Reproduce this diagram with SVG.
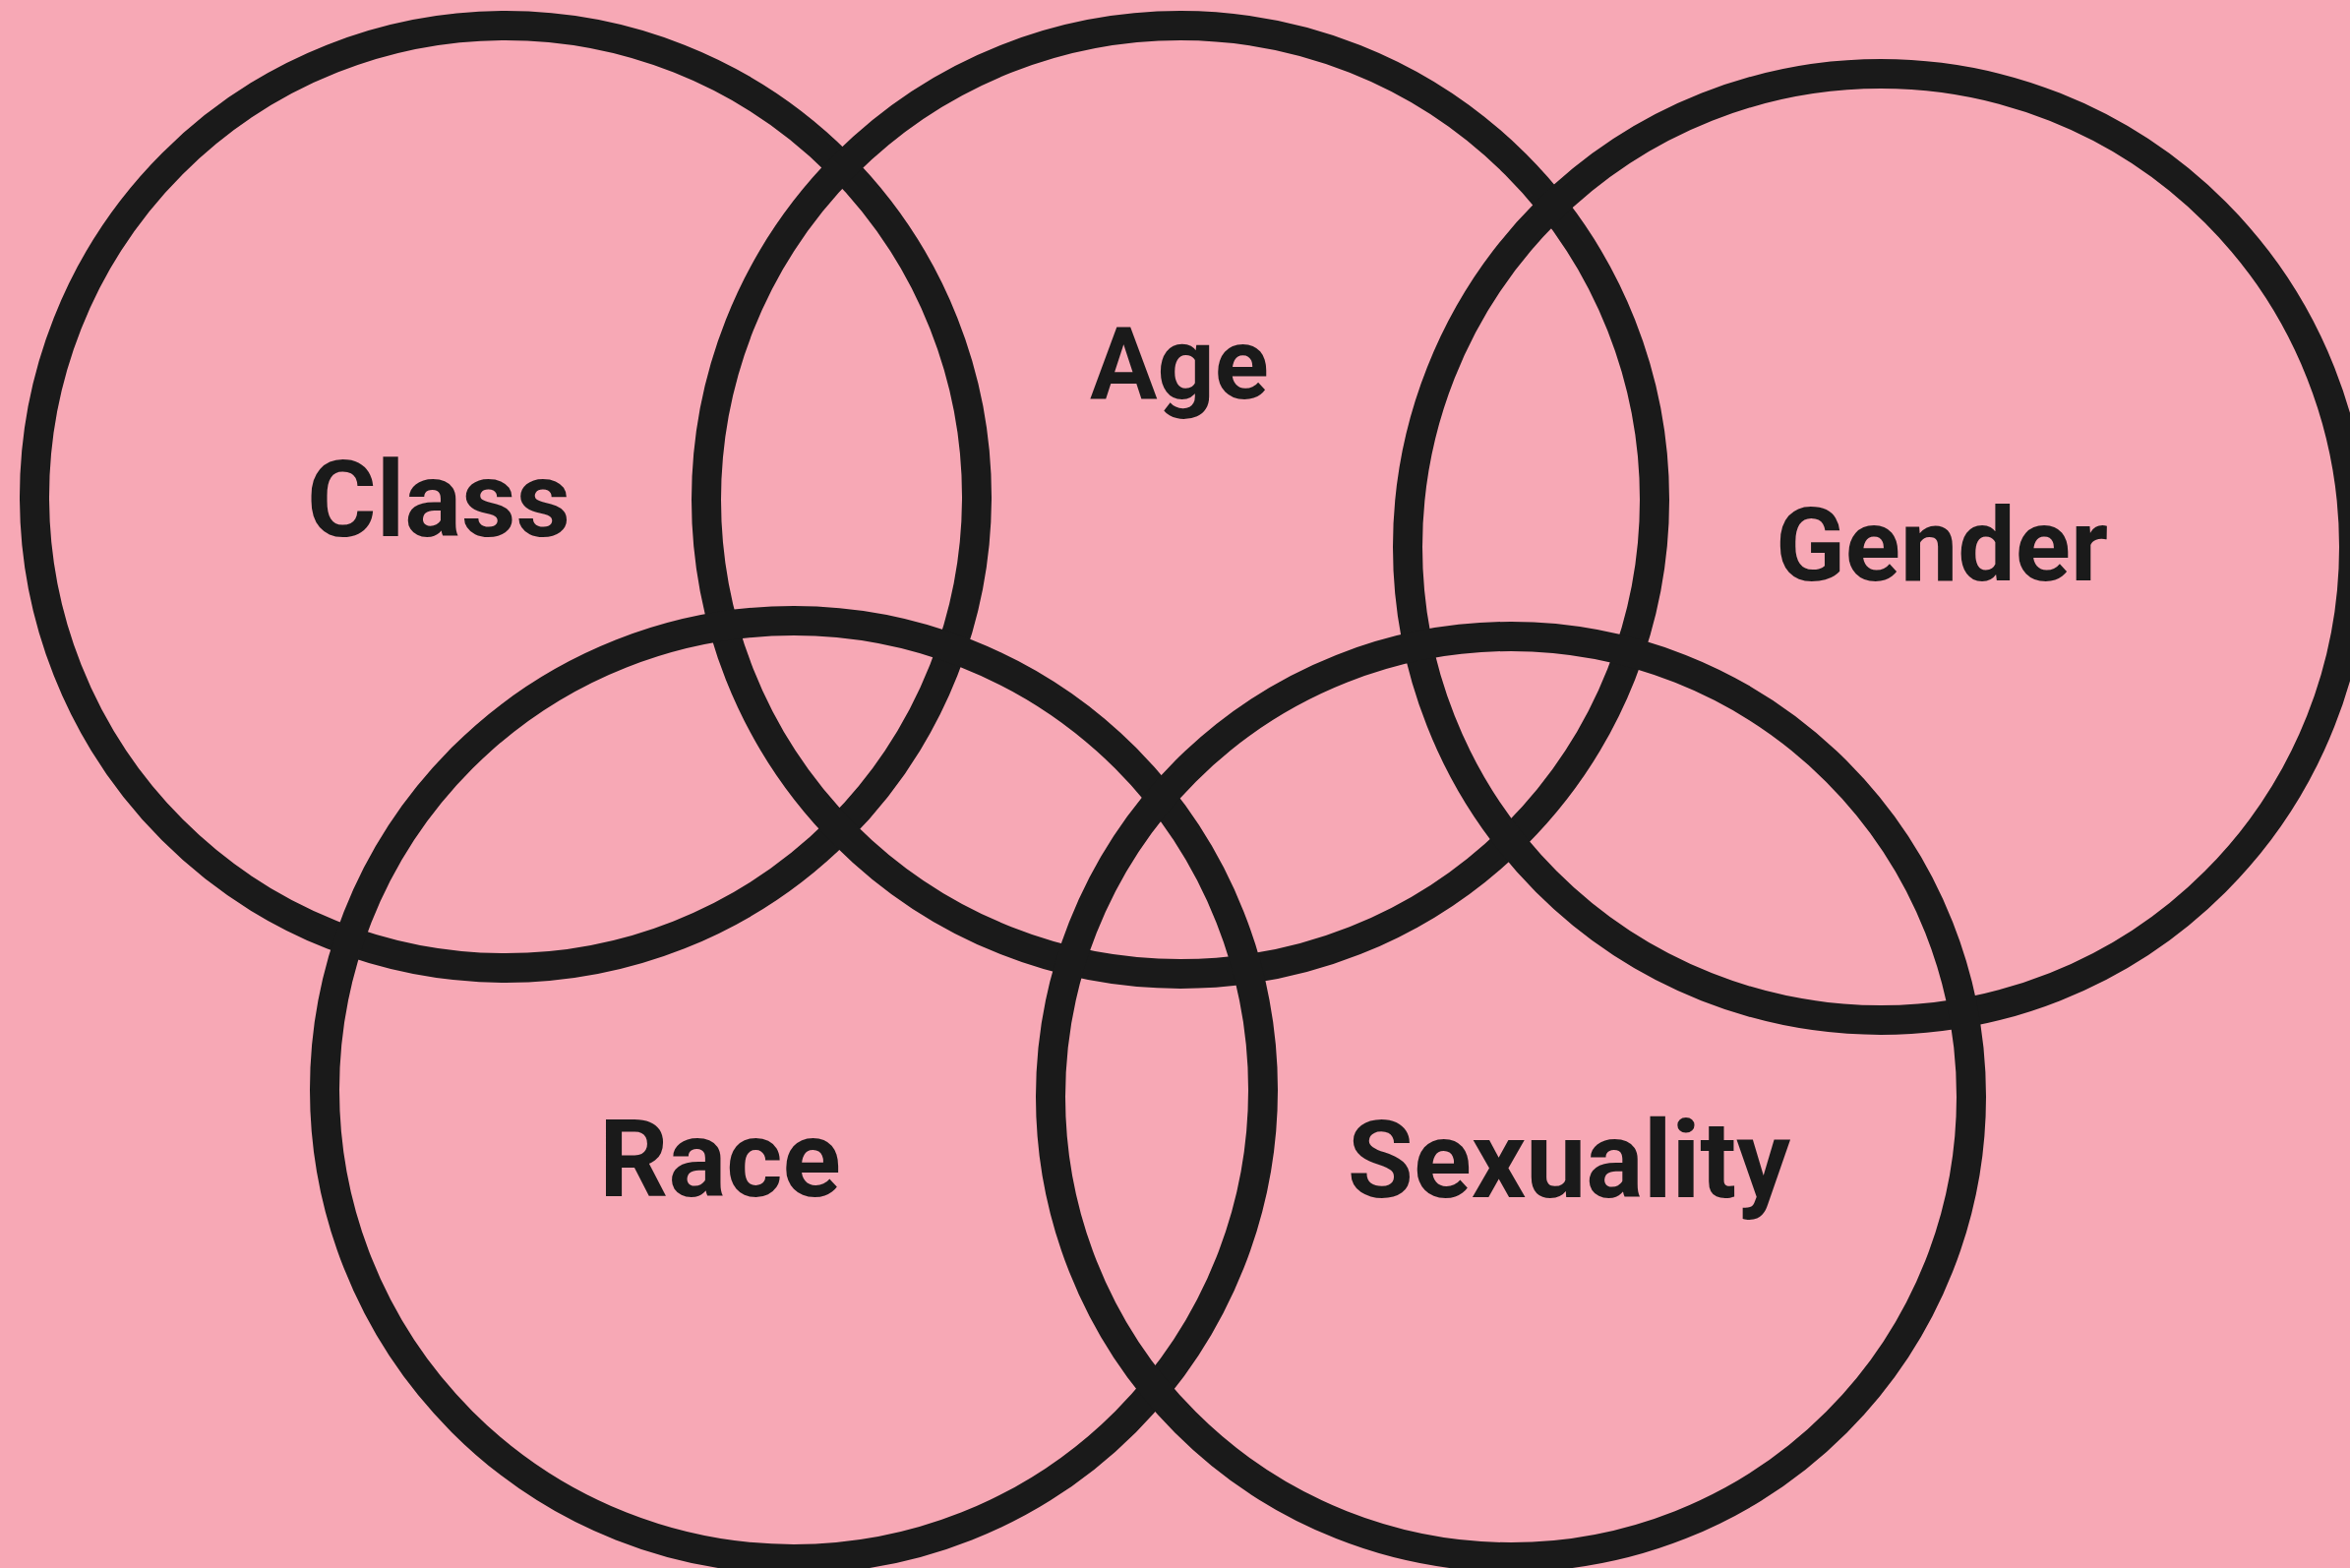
<svg xmlns="http://www.w3.org/2000/svg" width="2389" height="1594" viewBox="0 0 2389 1594">
<style>
.ring{fill:none;stroke:#1a1a1a;stroke-width:30}
.lbl{font-family:Roboto,"Liberation Sans",sans-serif;font-weight:700;fill:#1a1a1a;text-anchor:middle}
</style>
<rect width="2389" height="1594" fill="#f7a8b5"/>
<g id="class"><circle class="ring" cx="514" cy="505" r="479"/><text class="lbl" x="446" y="545" font-size="108">Class</text></g>
<g id="age"><circle class="ring" cx="1200" cy="508" r="482"/><text class="lbl" x="1199" y="405" font-size="102">Age</text></g>
<g id="gender"><circle class="ring" cx="1912" cy="556" r="481"/><text class="lbl" x="1974" y="590" font-size="104">Gender</text></g>
<g id="race"><circle class="ring" cx="807" cy="1108" r="477"/><text class="lbl" x="732" y="1216" font-size="110">Race</text></g>
<g id="sexuality"><circle class="ring" cx="1536" cy="1115" r="468"/><text class="lbl" x="1595" y="1217" font-size="109">Sexuality</text></g>
<g id="connectors"/>
</svg>
